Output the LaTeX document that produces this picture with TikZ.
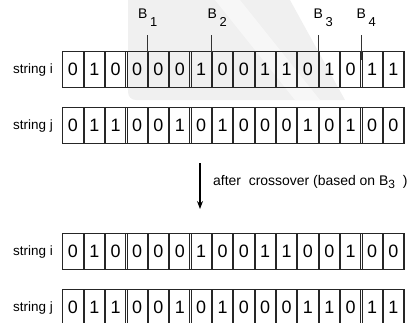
\documentclass[tikz,border=0pt]{standalone}
\usepackage{fontspec}
\setmainfont{Liberation Sans}
\usetikzlibrary{arrows.meta}
\tikzset{
  wm/.style={fill=black!6, draw=none},
  wmlight/.style={fill=black!3, draw=none},
  cell/.style={draw=black!85, line width=0.8bp, minimum width=20.2bp, minimum height=36bp, inner sep=0pt, font=\fontsize{18}{18}\selectfont},
  outer/.style={draw=black!85, line width=0.8bp, minimum width=341.76bp, minimum height=36bp, inner sep=0pt},
  rowlabel/.style={inner sep=0pt, font=\fontsize{13.5}{13.5}\selectfont},
  blabel/.style={inner sep=0pt, font=\fontsize{14}{14}\selectfont},
  tick/.style={draw=black!80, line width=0.8bp},
  note/.style={inner sep=0pt, font=\fontsize{14}{14}\selectfont},
  arr/.style={draw=black, line width=1.2bp, -{Stealth[length=8bp,width=6bp]}}
}
\newcommand{\bsub}[1]{B\hspace{2.5bp}\raisebox{-8bp}{\fontsize{13}{13}\selectfont #1}}
\begin{document}
\begin{tikzpicture}[x=1bp,y=-1bp]
\useasboundingbox (0,0) rectangle (408,323);
% faint watermark
\fill[wm] (128,0) -- (128,92) to[out=-90,in=180] (136,100) -- (345,100) -- (290,0) -- cycle;
\fill[wmlight] (215,0) -- (240,0) -- (320,100) -- (295,100) -- cycle;
% row 1: string i
\node[outer, anchor=north west] (R1) at (62.3,51) {};
\foreach \b [count=\k] in {0,1,0,0,0,0,1,0,0,1,1,0,1,0,1,1}
  \node[cell] (a\k) at ({62.3+(\k-0.5)*21.36},69) {\b};
\node[rowlabel, anchor=base east] (L1) at (53,73.5) {string i};
% row 2: string j
\node[outer, anchor=north west] (R2) at (62.3,107) {};
\foreach \b [count=\k] in {0,1,1,0,0,1,0,1,0,0,0,1,0,1,0,0}
  \node[cell] (b\k) at ({62.3+(\k-0.5)*21.36},125) {\b};
\node[rowlabel, anchor=base east] (L2) at (53,129.5) {string j};
% row 3: string i after
\node[outer, anchor=north west] (R3) at (62.3,233) {};
\foreach \b [count=\k] in {0,1,0,0,0,0,1,0,0,1,1,0,0,1,0,0}
  \node[cell] (c\k) at ({62.3+(\k-0.5)*21.36},251) {\b};
\node[rowlabel, anchor=base east] (L3) at (53,255.5) {string i};
% row 4: string j after
\node[outer, anchor=north west] (R4) at (62.3,289) {};
\foreach \b [count=\k] in {0,1,1,0,0,1,0,1,0,0,0,1,1,0,1,1}
  \node[cell] (d\k) at ({62.3+(\k-0.5)*21.36},307) {\b};
\node[rowlabel, anchor=base east] (L4) at (53,311.5) {string j};
% break points
\node[blabel, anchor=base west] (B1) at (138,18) {\bsub{1}};
\node[blabel, anchor=base west] (B2) at (207.5,18) {\bsub{2}};
\node[blabel, anchor=base west] (B3) at (313.5,18) {\bsub{3}};
\node[blabel, anchor=base west] (B4) at (356.5,18) {\bsub{4}};
\coordinate (t1a) at (147.7,35); \coordinate (t1b) at (147.7,53);
\coordinate (t2a) at (211.8,35); \coordinate (t2b) at (211.8,53);
\coordinate (t3a) at (318.6,35); \coordinate (t3b) at (318.6,53);
\coordinate (t4a) at (361.3,35); \coordinate (t4b) at (361.3,60);
\draw[tick] (t1a) -- (t1b);
\draw[tick] (t2a) -- (t2b);
\draw[tick] (t3a) -- (t3b);
\draw[tick, line width=1bp] (t4a) -- (t4b);
% arrow and note
\coordinate (arrS) at (200,163);
\coordinate (arrE) at (200,209);
\draw[arr] (arrS) -- (arrE);
\node[note, anchor=base west] (N) at (213,185) {after\ \ crossover (based on B\raisebox{-3bp}{\fontsize{12}{12}\selectfont 3}\ \ )};
\end{tikzpicture}
\end{document}
